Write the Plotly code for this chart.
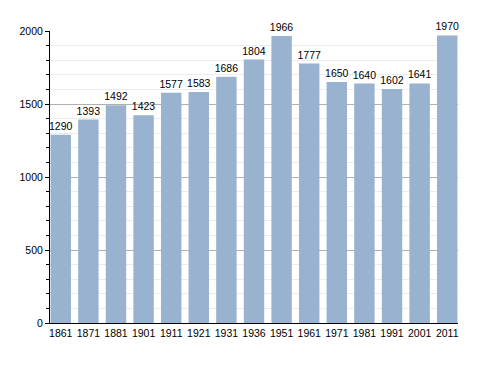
import plotly.graph_objects as go

years = ["1861", "1871", "1881", "1901", "1911", "1921", "1931", "1936",
         "1951", "1961", "1971", "1981", "1991", "2001", "2011"]
population = [1290, 1393, 1492, 1423, 1577, 1583, 1686, 1804,
              1966, 1777, 1650, 1640, 1602, 1641, 1970]
y_ticks = [0, 500, 1000, 1500, 2000]

fig = go.Figure(go.Bar(
    x=years, y=population,
    marker=dict(color="#98b2cf", line=dict(width=0)),
    text=[str(v) for v in population],
    textposition="outside",
    constraintext="none",
    textfont=dict(family="Liberation Sans, Arial", size=10.5, color="black"),
    cliponaxis=False,
))

fig.update_layout(
    width=488, height=373,
    margin=dict(l=50, r=30, t=31, b=50, autoexpand=False),
    paper_bgcolor="white", plot_bgcolor="white",
    bargap=0.26,
    showlegend=False,
    font=dict(family="Liberation Sans, Arial", size=10.5, color="black"),
)
fig.update_xaxes(
    type="category", range=[-0.39, 14.39], automargin=False,
    showline=True, linecolor="black", linewidth=1,
    ticks="", showgrid=False,
    tickfont=dict(size=10.5, color="black"),
)
fig.update_yaxes(
    range=[0, 2000], tickvals=y_ticks, automargin=False,
    showline=True, linecolor="black", linewidth=1,
    ticks="outside", ticklen=4, tickcolor="black",
    showgrid=True, gridcolor="#b0b0b0", gridwidth=1,
    minor=dict(dtick=100, showgrid=True, gridcolor="#ececec",
               ticks="outside", ticklen=3, tickcolor="black"),
    tickfont=dict(size=10.5, color="black"),
    zeroline=False,
)

fig.write_html("out.html", config={"displayModeBar": False},
               post_script="document.body.style.margin='0';")
